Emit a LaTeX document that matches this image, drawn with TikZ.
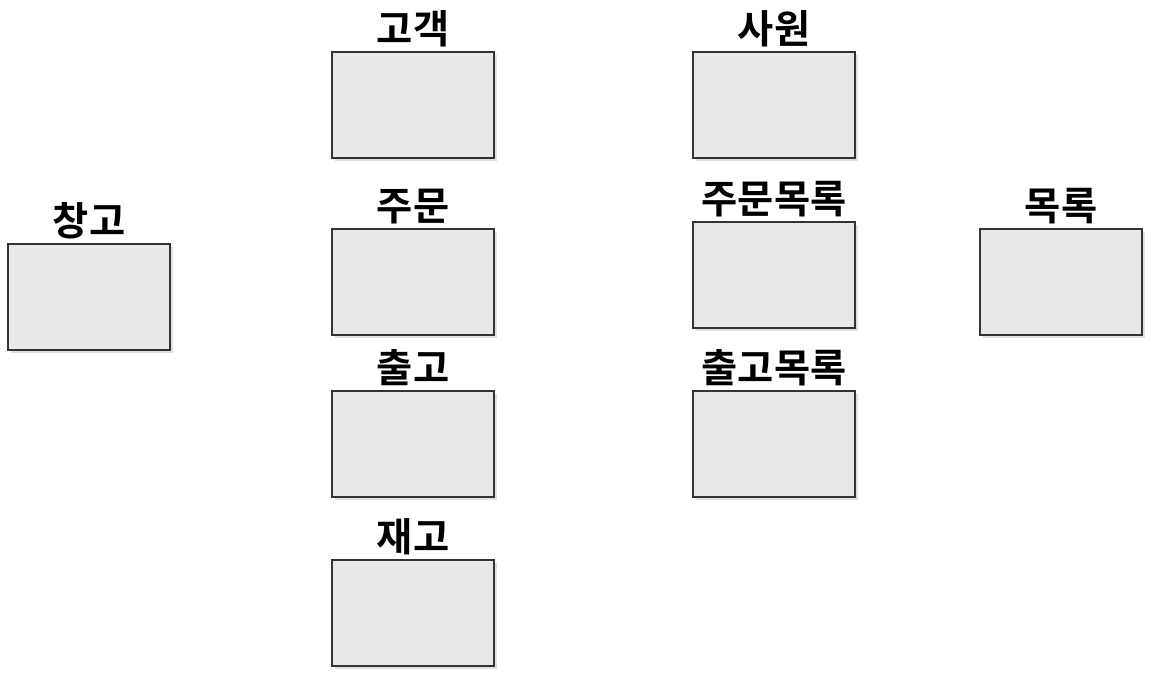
\documentclass[tikz,border=0pt]{standalone}
\usepackage{fontspec}
\newfontfamily\krfont{Noto Sans CJK KR}[BoldFont={* Bold}]
\usetikzlibrary{positioning,shadows}

\begin{document}
\begin{tikzpicture}[x=0.75pt,y=0.75pt,yscale=-1,xscale=1,
    entity/.style={draw=black!80,line width=1.5pt,fill=black!9,
      minimum width=121.5pt,minimum height=79.5pt,inner sep=0pt,
      drop shadow={opacity=0.25,shadow xshift=2pt,shadow yshift=-2pt}},
    ename/.style={font=\krfont\bfseries\fontsize{29.5}{32}\selectfont,inner sep=0pt}]
        \useasboundingbox (0,0) rectangle (1154,672);

        %Shape: Rectangle [창고]
        \node [entity] (changgo) at (89,297) {};
        %Shape: Rectangle [고객]
        \node [entity] (gogaek) at (413,105) {};
        %Shape: Rectangle [주문]
        \node [entity] (jumun) at (413,282) {};
        %Shape: Rectangle [출고]
        \node [entity] (chulgo) at (413,444) {};
        %Shape: Rectangle [재고]
        \node [entity] (jaego) at (413,613) {};
        %Shape: Rectangle [사원]
        \node [entity] (sawon) at (774,105) {};
        %Shape: Rectangle [주문목록]
        \node [entity] (jumunmokrok) at (774,275) {};
        %Shape: Rectangle [출고목록]
        \node [entity] (chulgomokrok) at (774,444) {};
        %Shape: Rectangle [목록]
        \node [entity] (mokrok) at (1061,282) {};

        % Text Node
        \node [ename,above=3pt of changgo] (changgo-t) {창고};
        % Text Node
        \node [ename,above=3pt of gogaek] (gogaek-t) {고객};
        % Text Node
        \node [ename,above=3pt of jumun] (jumun-t) {주문};
        % Text Node
        \node [ename,above=3pt of chulgo] (chulgo-t) {출고};
        % Text Node
        \node [ename,above=3pt of jaego] (jaego-t) {재고};
        % Text Node
        \node [ename,above=3pt of sawon] (sawon-t) {사원};
        % Text Node
        \node [ename,above=3pt of jumunmokrok] (jumunmokrok-t) {주문목록};
        % Text Node
        \node [ename,above=3pt of chulgomokrok] (chulgomokrok-t) {출고목록};
        % Text Node
        \node [ename,above=3pt of mokrok] (mokrok-t) {목록};

\end{tikzpicture}
\end{document}
